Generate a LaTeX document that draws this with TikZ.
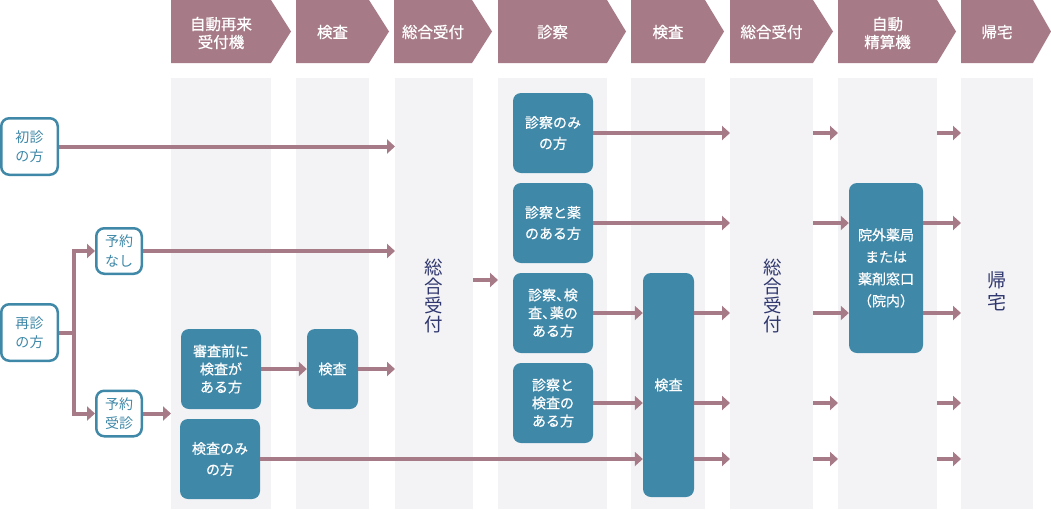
\documentclass[tikz,border=0pt]{standalone}
\usepackage{fontspec}
\setmainfont{Noto Sans CJK JP}
\newfontfamily\medfont[FakeBold=0.6]{Noto Sans CJK JP}
\usetikzlibrary{arrows.meta}
\definecolor{mauve}{HTML}{A67B87}
\definecolor{tealbox}{HTML}{3F88A8}
\definecolor{colgray}{HTML}{F3F3F5}
\definecolor{navy}{HTML}{2F376E}
\newcommand{\hcomma}{\makebox[0.55em][l]{、}}
\begin{document}
\begin{tikzpicture}[x=1pt,y=-1pt,
  hdrtext/.style={text=white,font=\medfont\fontsize{15.5}{18}\selectfont,align=center,inner sep=0pt},
  outbox/.style={draw=tealbox,line width=2.5pt,fill=white,rounded corners=8pt,text=tealbox,
    font=\fontsize{14}{19.5}\selectfont,align=center,inner sep=0pt},
  tbox/.style={fill=tealbox,rounded corners=8pt,text=white,font=\medfont\fontsize{14}{18}\selectfont,
    align=center,inner sep=0pt,minimum width=80pt,minimum height=80pt},
  twoline/.style={font=\medfont\fontsize{14}{21}\selectfont},
  vtext/.style={text=navy,font=\fontsize{18.5}{19}\selectfont,align=center,inner sep=0pt},
  arr/.style={draw=mauve,line width=4pt,-{Triangle[length=8pt,width=14pt]}}]
\useasboundingbox (0,0) rectangle (1051,509);
% header chevrons
\foreach \a/\b/\t in {171/271/291,296/369/389,394/472/492,498/607/626,631/705/724,730/813/833,838/937/956,961/1033/1051}
  \fill[mauve] (\a,0) -- (\b,0) -- (\t,31.5) -- (\b,63) -- (\a,63) -- cycle;
% lanes
\foreach \a/\b in {171/271,296/369,395/473,498/607,631/705,730/813,838/937,961/1033}
  \fill[colgray] (\a,78) rectangle (\b,509);
% header texts
\node[hdrtext] (h1) at (221,33) {自動再来\\受付機};
\node[hdrtext] (h2) at (332.5,32) {検査};
\node[hdrtext] (h3) at (433,32) {総合受付};
\node[hdrtext] (h4) at (552.5,32) {診察};
\node[hdrtext] (h5) at (668,32) {検査};
\node[hdrtext] (h6) at (771.5,32) {総合受付};
\node[hdrtext] (h7) at (887.5,33) {自動\\精算機};
\node[hdrtext] (h8) at (997,32) {帰宅};
% left nodes
\node[outbox,minimum width=56.5pt,minimum height=56.5pt] (shoshin) at (29.5,146.5) {初診\\の方};
\node[outbox,minimum width=56.5pt,minimum height=56.5pt] (saishin) at (29.5,332.5) {再診\\の方};
\node[outbox,minimum width=45.5pt,minimum height=45.5pt] (nashi) at (119,251) {予約\\なし};
\node[outbox,minimum width=45.5pt,minimum height=45.5pt] (jushin) at (119,413.5) {予約\\受診};
% teal boxes
\node[tbox] (maekensa) at (221,369) {審査前に\\検査が\\ある方};
\node[tbox,twoline] (kensanomi) at (220,459) {検査のみ\\の方};
\node[tbox,minimum width=51pt] (kensa1) at (332.5,369) {検査};
\node[tbox,twoline] (snomi) at (553,133) {診察のみ\\の方};
\node[tbox,twoline] (skusuri) at (553,223) {診察と薬\\のある方};
\node[tbox] (skk) at (553,313) {診察\hcomma 検\\査\hcomma 薬の\\ある方};
\node[tbox] (sk) at (553,403) {診察と\\検査の\\ある方};
\node[tbox,minimum width=51pt,minimum height=224pt] (kensa2) at (668.5,385) {検査};
\node[tbox,minimum width=74pt,minimum height=170pt,font=\medfont\fontsize{14}{22}\selectfont] (yakkyoku) at (886,268) {院外薬局\\または\\薬剤窓口\\（院内）};
% vertical texts
\node[vtext] (sogo1) at (434,295.5) {総\\合\\受\\付};
\node[vtext] (sogo2) at (773,295.5) {総\\合\\受\\付};
\node[vtext,font=\fontsize{19}{22}\selectfont] (kitaku) at (997,291.5) {帰\\宅};
% lane edge coordinates
\coordinate (c3in1) at (395,146.5);
\coordinate (c3in2) at (395,251);
\coordinate (c3in3) at (395,369);
\coordinate (c1in) at (171,413.5);
\coordinate (c3out) at (473,280);
\coordinate (c4in) at (498,280);
\coordinate (split) at (74,332.5);
\foreach \y/\n in {133/a,223/b,313/c,403/d,459/e}{
  \coordinate (c6in\n) at (730,\y);
  \coordinate (c6out\n) at (813,\y);
  \coordinate (c7in\n) at (838,\y);
  \coordinate (c7out\n) at (937,\y);
  \coordinate (c8in\n) at (961,\y);
}
% connectors
\draw[arr] (shoshin.east) -- (c3in1);
\draw[arr] (saishin.east) -- (split) |- (nashi.west);
\draw[arr] (saishin.east) -- (split) |- (jushin.west);
\draw[arr] (nashi.east) -- (c3in2);
\draw[arr] (jushin.east) -- (c1in);
\draw[arr] (maekensa.east) -- (kensa1.west);
\draw[arr] (kensa1.east) -- (c3in3);
\draw[arr] (c3out) -- (c4in);
\draw[arr] (kensanomi.east) -- (kensa2.west |- kensanomi.east);
\draw[arr] (snomi.east) -- (c6ina);
\draw[arr] (skusuri.east) -- (c6inb);
\draw[arr] (skk.east) -- (kensa2.west |- skk.east);
\draw[arr] (sk.east) -- (kensa2.west |- sk.east);
\draw[arr] (kensa2.east |- c6inc) -- (c6inc);
\draw[arr] (kensa2.east |- c6ind) -- (c6ind);
\draw[arr] (kensa2.east |- c6ine) -- (c6ine);
\draw[arr] (c6outa) -- (c7ina);
\draw[arr] (c6outb) -- (yakkyoku.west |- c6outb);
\draw[arr] (c6outc) -- (yakkyoku.west |- c6outc);
\draw[arr] (c6outd) -- (c7ind);
\draw[arr] (c6oute) -- (c7ine);
\draw[arr] (c7outa) -- (c8ina);
\draw[arr] (yakkyoku.east |- c8inb) -- (c8inb);
\draw[arr] (yakkyoku.east |- c8inc) -- (c8inc);
\draw[arr] (c7outd) -- (c8ind);
\draw[arr] (c7oute) -- (c8ine);
\end{tikzpicture}
\end{document}
